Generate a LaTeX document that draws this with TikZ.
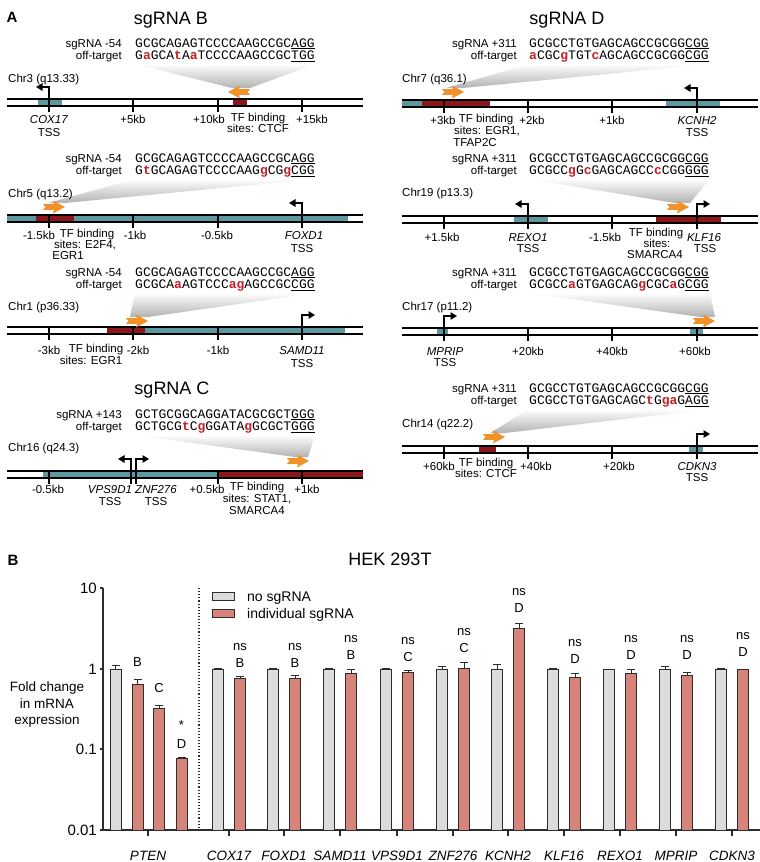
\documentclass[tikz,border=0pt]{standalone}
\usepackage{fontspec}
\setmainfont{Liberation Sans}
\newfontfamily\monof{Liberation Mono}
\usetikzlibrary{arrows.meta}
\definecolor{tealc}{RGB}{92,152,160}
\definecolor{tfred}{RGB}{140,22,26}
\definecolor{orangec}{RGB}{240,146,40}
\definecolor{seqred}{RGB}{192,32,40}
\definecolor{graybarc}{RGB}{220,220,220}
\definecolor{redbarc}{RGB}{214,132,122}
\definecolor{axisc}{RGB}{45,45,45}
\newcommand\rd[1]{\textcolor{seqred}{\textbf{#1}}}
\newcommand\fs[1]{\fontsize{#1}{#1}\selectfont}
% sequence pair: name, label x, seq x, baseline, label, seq, off-target
\newcommand\seqpair[7]{%
 \node[seqlab] (#1a) at (#2,#4) {#5};
 \node[seqtxt] (#1b) at (#3,#4) {#6};
 \node[seqlab] (#1c) at (#2,#4+12.3) {off-target};
 \node[seqtxt] (#1d) at (#3,#4+12.3) {#7};}
\newcommand\chromo[3]{\draw[chrline] (#1,#3) -- (#2,#3) (#1,#3+7) -- (#2,#3+7);}
\newcommand\seg[4]{\fill[#1] (#2,#4) rectangle (#3,#4+7);}
\newcommand\tck[2]{\draw[chrline] (#1,#2) -- (#1,#2+13);}
\newcommand\tssL[2]{\draw[tss] (#1,#2+13) -- (#1,#2-12) -- (#1-13,#2-12);}
\newcommand\tssR[2]{\draw[tss] (#1,#2+13) -- (#1,#2-12) -- (#1+13,#2-12);}
\newcommand\orR[2]{\fill[orangec] (#1,#2-2.8) -- (#1+11,#2-2.8) -- (#1+10,#2-6.5) -- (#1+22,#2) -- (#1+10,#2+6.5) -- (#1+11,#2+2.8) -- (#1,#2+2.8) -- (#1+2.5,#2) -- cycle;}
\newcommand\orL[2]{\fill[orangec] (#1,#2) -- (#1+12,#2-6.5) -- (#1+11,#2-2.8) -- (#1+22,#2-2.8) -- (#1+19.5,#2) -- (#1+22,#2+2.8) -- (#1+11,#2+2.8) -- (#1+12,#2+6.5) -- cycle;}
\newcommand\funnel[6]{\shade[top color=white, bottom color=black!30] (#1,#3) -- (#2,#3) -- (#5,#6) -- (#4,#6) -- cycle;}
\newcommand\barg[3]{\filldraw[graybar] (#1-5.5,830) rectangle (#1+5.5,#2); \draw[errbar] (#1,#2) -- (#1,#3) (#1-4,#3) -- (#1+4,#3);}
\newcommand\barr[3]{\filldraw[redbar] (#1-5.5,830) rectangle (#1+5.5,#2); \draw[errbar] (#1,#2) -- (#1,#3) (#1-4,#3) -- (#1+4,#3);}
\tikzset{
 seqlab/.style={font=\fs{11.5}, inner sep=0, anchor=base east},
 seqtxt/.style={font=\monof\fs{13}, inner sep=0, anchor=base west},
 lab/.style={font=\fs{11.5}, inner sep=0, anchor=base},
 chrlab/.style={font=\fs{11.5}, inner sep=0, anchor=base west},
 ttl/.style={font=\fs{18}, inner sep=0, anchor=base},
 panel/.style={font=\bfseries\fs{15}, inner sep=0, anchor=base},
 chrline/.style={line width=1.2pt, black},
 tss/.style={line width=1.2pt, -{Triangle[length=6.5pt,width=7.5pt]}},
 graybar/.style={fill=graybarc, draw=axisc, line width=0.9pt},
 redbar/.style={fill=redbarc, draw=axisc, line width=0.9pt},
 errbar/.style={draw=axisc, line width=0.9pt},
 sig/.style={font=\fs{13}, inner sep=0, anchor=base},
 genelab/.style={font=\itshape\fs{13.5}, inner sep=0, anchor=base},
 axlab/.style={font=\fs{15}, inner sep=0, anchor=base east},
 leglab/.style={font=\fs{14}, inner sep=0, anchor=base west},
 ylab/.style={font=\fs{13.5}, inner sep=0, anchor=base},
}
\begin{document}
\begin{tikzpicture}[x=1pt,y=-1pt]
\useasboundingbox (0,0) rectangle (760,862);
\fill[white] (0,0) rectangle (760,862);

\node[panel] (pA) at (12,22) {A};
\node[ttl] (tB) at (171,24) {sgRNA B};
\node[ttl] (tD) at (567,24) {sgRNA D};
\node[ttl] (tC) at (172,394) {sgRNA C};

% ---------------- L1 : Chr3
\funnel{135}{315}{64}{232}{250}{88}
\seqpair{L1}{122}{135}{47}{sgRNA -54}{GCGCAGAGTCCCCAAGCCGC\underline{AGG}}{G\rd{a}GCA\rd{t}A\rd{a}TCCCCAAGCCGC\underline{TGG}}
\node[chrlab] (c1) at (8,82) {Chr3 (q13.33)};
\seg{tealc}{38}{62}{99}
\seg{tfred}{233}{247}{99}
\chromo{7}{363}{99}
\tck{49}{99}\tck{133}{99}\tck{218}{99}\tck{302}{99}
\tssL{49}{99}
\orL{228}{92}
\node[lab] (l1a) at (49,123) {\textit{COX17}};
\node[lab] (l1b) at (49,136) {TSS};
\node[lab] (l1c) at (133,123) {+5kb};
\node[lab] (l1d) at (209,123) {+10kb};
\node[lab] (l1e) at (312,123) {+15kb};
\node[lab] (l1f) at (258,121) {TF binding};
\node[lab] (l1g) at (258,132) {sites: CTCF};

% ---------------- L2 : Chr5
\funnel{135}{315}{179}{48}{65}{203}
\seqpair{L2}{122}{135}{162}{sgRNA -54}{GCGCAGAGTCCCCAAGCCGC\underline{AGG}}{G\rd{t}GCAGAGTCCCCAAG\rd{g}CG\rd{g}\underline{CGG}}
\node[chrlab] (c2) at (8,197) {Chr5 (q13.2)};
\seg{tealc}{7}{348}{215}
\seg{tfred}{36}{74}{215}
\chromo{7}{363}{215}
\tck{49}{215}\tck{133}{215}\tck{218}{215}\tck{302}{215}
\tssL{302}{215}
\orR{43}{207}
\node[lab] (l2a) at (39,239) {-1.5kb};
\node[lab] (l2b) at (135,239) {-1kb};
\node[lab] (l2c) at (217,239) {-0.5kb};
\node[lab] (l2d) at (304,239) {\textit{FOXD1}};
\node[lab] (l2e) at (302,252) {TSS};
\node[lab] (l2f) at (87,237) {TF binding};
\node[lab] (l2g) at (85,248) {sites: E2F4,};
\node[lab] (l2h) at (68,259) {EGR1};

% ---------------- L3 : Chr1
\funnel{135}{315}{293}{130}{148}{317}
\seqpair{L3}{122}{135}{276}{sgRNA -54}{GCGCAGAGTCCCCAAGCCGC\underline{AGG}}{GCGCA\rd{a}AGTCCC\rd{ag}AGCCGC\underline{CGG}}
\node[chrlab] (c3) at (8,310) {Chr1 (p36.33)};
\seg{tfred}{107}{145}{327}
\seg{tealc}{145}{345}{327}
\chromo{7}{363}{327}
\tck{49}{327}\tck{133}{327}\tck{218}{327}\tck{302}{327}
\tssR{302}{327}
\orR{126}{321}
\node[lab] (l3a) at (49,354) {-3kb};
\node[lab] (l3b) at (138,354) {-2kb};
\node[lab] (l3c) at (218,354) {-1kb};
\node[lab] (l3d) at (302,354) {\textit{SAMD11}};
\node[lab] (l3e) at (302,367) {TSS};
\node[lab] (l3f) at (96,352) {TF binding};
\node[lab] (l3g) at (91,364) {sites: EGR1};

% ---------------- L4 : Chr16
\funnel{135}{315}{435}{295}{308}{457}
\seqpair{L4}{122}{135}{418}{sgRNA +143}{GCTGCGGCAGGATACGCGCT\underline{GGG}}{GCTGCG\rd{t}C\rd{g}GGATA\rd{g}GCGCT\underline{GGG}}
\node[chrlab] (c4) at (8,451) {Chr16 (q24.3)};
\seg{tealc}{43}{218}{471}
\seg{tfred}{218}{363}{471}
\chromo{7}{363}{471}
\tck{49}{471}\tck{131}{471}\tck{136}{471}\tck{218}{471}\tck{302}{471}
\tssL{131}{471}
\tssR{136}{471}
\orR{287}{461}
\node[lab] (l4a) at (48,493) {-0.5kb};
\node[lab] (l4b) at (110,493) {\textit{VPS9D1}};
\node[lab] (l4c) at (156,493) {\textit{ZNF276}};
\node[lab] (l4d) at (110,505) {TSS};
\node[lab] (l4e) at (156,505) {TSS};
\node[lab] (l4f) at (207,493) {+0.5kb};
\node[lab] (l4g) at (307,493) {+1kb};
\node[lab] (l4h) at (257,490) {TF binding};
\node[lab] (l4i) at (257,502) {sites: STAT1,};
\node[lab] (l4j) at (257,514) {SMARCA4};

% ---------------- R1 : Chr7
\funnel{529}{710}{64}{446}{463}{88}
\seqpair{R1}{517}{529}{47}{sgRNA +311}{GCGCCTGTGAGCAGCCGCGG\underline{CGG}}{\rd{a}CGC\rd{g}TGT\rd{c}AGCAGCCGCGG\underline{CGG}}
\node[chrlab] (c5) at (402,82) {Chr7 (q36.1)};
\seg{tealc}{402}{422}{100}
\seg{tfred}{422}{490}{100}
\seg{tealc}{666}{720}{100}
\chromo{402}{758}{100}
\tck{444}{100}\tck{528}{100}\tck{612}{100}\tck{697}{100}
\tssL{697}{100}
\orR{442}{92}
\node[lab] (r1a) at (443,124) {+3kb};
\node[lab] (r1b) at (532,124) {+2kb};
\node[lab] (r1c) at (612,124) {+1kb};
\node[lab] (r1d) at (697,124) {\textit{KCNH2}};
\node[lab] (r1e) at (697,136) {TSS};
\node[lab] (r1f) at (486,122) {TF binding};
\node[lab] (r1g) at (487,134) {sites: EGR1,};
\node[lab] (r1h) at (475,146) {TFAP2C};

% ---------------- R2 : Chr19
\funnel{529}{710}{179}{675}{690}{203}
\seqpair{R2}{517}{529}{162}{sgRNA +311}{GCGCCTGTGAGCAGCCGCGG\underline{CGG}}{GCGCC\rd{g}G\rd{c}GAGCAGCC\rd{c}CGG\underline{GGG}}
\node[chrlab] (c6) at (402,196) {Chr19 (p13.3)};
\seg{tealc}{514}{548}{216}
\seg{tfred}{656}{721}{216}
\chromo{402}{758}{216}
\tck{444}{216}\tck{528}{216}\tck{612}{216}\tck{697}{216}
\tssL{528}{216}
\tssR{697}{216}
\orR{667}{207}
\node[lab] (r2a) at (442,241) {+1.5kb};
\node[lab] (r2b) at (528,241) {\textit{REXO1}};
\node[lab] (r2c) at (528,252) {TSS};
\node[lab] (r2d) at (605,241) {-1.5kb};
\node[lab] (r2e) at (704,241) {\textit{KLF16}};
\node[lab] (r2f) at (705,252) {TSS};
\node[lab] (r2g) at (656,236) {TF binding};
\node[lab] (r2h) at (657,247) {sites:};
\node[lab] (r2i) at (655,258) {SMARCA4};

% ---------------- R3 : Chr17
\funnel{529}{710}{293}{700}{715}{317}
\seqpair{R3}{517}{529}{276}{sgRNA +311}{GCGCCTGTGAGCAGCCGCGG\underline{CGG}}{GCGCC\rd{a}GTGAGCAG\rd{g}CGC\rd{a}G\underline{CGG}}
\node[chrlab] (c7) at (402,310) {Chr17 (p11.2)};
\seg{tealc}{437}{448}{328}
\seg{tealc}{690}{703}{328}
\chromo{402}{758}{328}
\tck{444}{328}\tck{528}{328}\tck{612}{328}\tck{697}{328}
\tssR{444}{328}
\orR{693}{321}
\node[lab] (r3a) at (445,355) {\textit{MPRIP}};
\node[lab] (r3b) at (445,366) {TSS};
\node[lab] (r3c) at (528,355) {+20kb};
\node[lab] (r3d) at (612,355) {+40kb};
\node[lab] (r3e) at (695,355) {+60kb};

% ---------------- R4 : Chr14
\funnel{529}{710}{409}{490}{505}{433}
\seqpair{R4}{517}{529}{392}{sgRNA +311}{GCGCCTGTGAGCAGCCGCGG\underline{CGG}}{GCGCCTGTGAGCAGC\rd{t}G\rd{ga}G\underline{AGG}}
\node[chrlab] (c8) at (402,427) {Chr14 (q22.2)};
\seg{tfred}{479}{496}{446}
\seg{tealc}{689}{703}{446}
\chromo{402}{758}{446}
\tck{444}{446}\tck{528}{446}\tck{612}{446}\tck{697}{446}
\tssR{697}{446}
\orR{483}{437}
\node[lab] (r4a) at (439,470) {+60kb};
\node[lab] (r4b) at (536,470) {+40kb};
\node[lab] (r4c) at (619,470) {+20kb};
\node[lab] (r4d) at (697,470) {\textit{CDKN3}};
\node[lab] (r4e) at (697,481) {TSS};
\node[lab] (r4f) at (486,466) {TF binding};
\node[lab] (r4g) at (486,477) {sites: CTCF};

% ================= Panel B
\node[panel] (pB) at (13,565) {B};
\node[ttl] (hek) at (390,565) {HEK 293T};

% axes
\draw[axisc, line width=1.1pt] (103,588) -- (103,830) -- (760,830);
\foreach \yy/\tl in {588/10, 669/1, 749/0.1, 830/0.01}{
  \draw[axisc, line width=1.1pt] (100,\yy) -- (103,\yy);
  \node[axlab] at (97,\yy+5.3) {\tl};
}
\draw[axisc, line width=1.1pt, dotted] (199,588) -- (199,830);
\node[ylab] (y1) at (47,691) {Fold change};
\node[ylab] (y2) at (47,708) {in mRNA};
\node[ylab] (y3) at (47,724) {expression};

% legend
\filldraw[graybar] (212,592) rectangle (234,600);
\filldraw[redbar] (212,609) rectangle (234,617);
\node[leglab] (lg1) at (247,601) {no sgRNA};
\node[leglab] (lg2) at (247,618) {individual sgRNA};

% x ticks and names
\foreach \xx/\gn in {148/PTEN, 229/COX17, 284/FOXD1, 340/SAMD11, 397/VPS9D1, 453/ZNF276, 508/KCNH2, 564/KLF16, 620/REXO1, 676/MPRIP, 732/CDKN3}{
  \draw[axisc, line width=1.1pt] (\xx,830) -- (\xx,836);
  \node[genelab] at (\xx,860) {\gn};
}

% PTEN bars
\barg{115.5}{669}{665}
\barr{137.5}{684}{679}
\barr{159}{708}{705}
\barr{181.5}{758}{757}
\node[sig] (pb) at (137.5,666) {B};
\node[sig] (pc) at (159,692) {C};
\node[sig] (ps) at (181.5,729) {*};
\node[sig] (pd) at (181.5,748) {D};

% other genes: tick, gray err, red top, red err, ns base, letter base, letter
\foreach \t/\ge/\rt/\re/\nb/\lb/\lt in {
 229/668/678/676/650/667/B,
 284/668/678/675/650/667/B,
 340/668/673/669/642/659/B,
 397/668/672/670/644/661/C,
 453/666/668/662/635/652/C,
 508/664/628/623/595/612/D,
 564/668/677/673/646/663/D,
 620/669/673/669/642/659/D,
 676/666/675/672/642/659/D,
 732/668/669/669/639/656/D}{
  \barg{\t-11}{669}{\ge}
  \barr{\t+11}{\rt}{\re}
  \node[sig] at (\t+11,\nb) {ns};
  \node[sig] at (\t+11,\lb) {\lt};
}
\end{tikzpicture}
\end{document}
